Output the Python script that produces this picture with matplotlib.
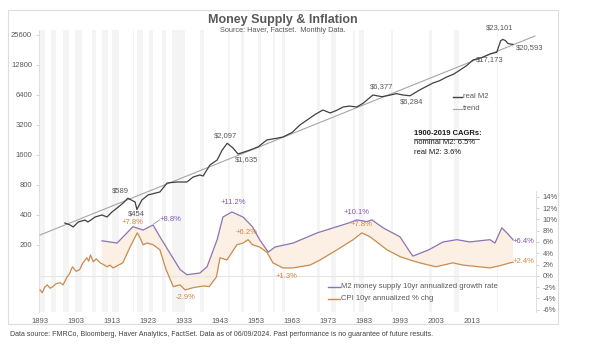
import numpy as np
import matplotlib
matplotlib.use("Agg")
import matplotlib.pyplot as plt
from matplotlib.lines import Line2D
from matplotlib.patches import Rectangle
from matplotlib.ticker import FixedLocator, FixedFormatter

plt.rcParams['font.family'] = ['Liberation Sans', 'DejaVu Sans']

# real M2 (log scale, left axis)
m2_years = [1899.9, 1901.3, 1902.2, 1903.6, 1905.5, 1906.3, 1908.3, 1910.2, 1911.6, 1913.0,
            1914.4, 1916.1, 1917.4, 1919.4, 1919.9, 1921.3, 1923.0, 1926.3, 1928.3, 1931.0,
            1933.8, 1935.5, 1937.4, 1938.3, 1940.2, 1942.2, 1943.6, 1945.0, 1946.6, 1948.0,
            1949.4, 1951.3, 1953.6, 1956.0, 1958.8, 1960.5, 1963.0, 1965.2, 1967.2, 1969.5,
            1971.6, 1973.6, 1975.5, 1977.2, 1979.0, 1981.0, 1982.7, 1985.5, 1988.0, 1990.2,
            1992.0, 1993.8, 1995.8, 1998.5, 2002.2, 2004.0, 2006.0, 2008.0, 2009.7, 2011.5,
            2013.3, 2016.0, 2018.0, 2019.9, 2020.3, 2021.0, 2021.6, 2022.3, 2023.0, 2024.4]
m2_values = [332, 318, 303, 340, 356, 340, 382, 400, 382, 429,
             470, 528, 589, 540, 454, 566, 635, 681, 838, 857,
             857, 960, 1008, 984, 1270, 1424, 1792, 2097, 1882, 1635,
             1700, 1792, 1930, 2263, 2357, 2424, 2688, 3200, 3591, 4100,
             4525, 4224, 4500, 4850, 4950, 4850, 5270, 6400, 6150, 6377,
             6600, 6400, 6284, 7200, 8445, 8900, 9700, 10400, 11400, 12600,
             14370, 15300, 16500, 17173, 19000, 22500, 23101, 22500, 21000, 20593]

trend_years = [1893, 2030.5]
trend_values = [252, 25000]

# 10yr annualized rates (right axis, %)
growth_years = [1910.2, 1914.4, 1918.8, 1921.6, 1924.4, 1926.3, 1929.0, 1931.9, 1933.8, 1937.4,
                1939.4, 1942.2, 1943.8, 1946.3, 1949.4, 1952.0, 1954.0, 1956.4, 1958.3, 1963.3,
                1970.0, 1975.5, 1979.0, 1981.0, 1983.8, 1985.2, 1988.3, 1993.0, 1995.8, 1996.6,
                2001.0, 2005.0, 2008.8, 2012.4, 2018.0, 2019.4, 2021.3, 2022.7, 2024.4]
growth_pct = [6.2, 5.8, 8.7, 8.1, 9.0, 6.9, 4.1, 1.1, 0.2, 0.5,
              1.6, 6.4, 10.4, 11.3, 10.4, 8.7, 6.4, 4.2, 5.1, 5.8,
              7.6, 8.7, 9.4, 9.9, 9.6, 9.9, 8.5, 6.9, 4.2, 3.5,
              4.6, 6.0, 6.4, 6.0, 6.4, 5.8, 8.5, 7.6, 6.4]

cpi_years = [1893.0, 1893.6, 1894.3, 1895.0, 1895.8, 1896.6, 1897.4, 1898.6, 1899.4, 1900.5,
             1901.2, 1902.0, 1903.0, 1904.0, 1904.8, 1906.0, 1906.5, 1907.0, 1907.8, 1908.6,
             1909.7, 1910.6, 1911.6, 1912.4, 1913.3, 1914.5, 1916.0, 1918.0, 1920.0, 1920.8,
             1921.6, 1922.8, 1924.4, 1926.3, 1928.0, 1930.0, 1931.9, 1933.3, 1935.5, 1938.3,
             1940.0, 1942.0, 1943.0, 1944.9, 1947.7, 1949.4, 1950.8, 1952.0, 1954.0, 1956.0,
             1957.7, 1960.5, 1963.3, 1968.0, 1970.8, 1975.5, 1980.0, 1982.4, 1984.7, 1989.4,
             1993.0, 1995.8, 1998.5, 2003.0, 2007.7, 2010.5, 2015.0, 2018.0, 2020.8, 2023.6,
             2024.4]
cpi_pct = [-2.5, -3.0, -2.0, -1.6, -2.2, -1.9, -1.4, -1.2, -1.6, -0.2,
           0.4, 1.6, 0.8, 1.1, 2.2, 3.2, 2.6, 3.7, 2.5, 3.0,
           2.3, 2.0, 1.6, 1.9, 1.4, 1.8, 2.3, 5.1, 7.6, 6.7,
           5.5, 5.8, 5.5, 4.6, 1.1, -1.9, -1.6, -2.5, -2.1, -1.8,
           -1.9, -0.2, 3.2, 2.8, 5.5, 5.8, 6.4, 5.5, 5.1, 4.2,
           2.3, 1.4, 1.4, 1.9, 2.8, 4.6, 6.4, 7.6, 6.9, 4.6,
           3.4, 2.8, 2.3, 1.6, 2.3, 1.9, 1.6, 1.4, 1.8, 2.3,
           2.4]

# NBER recessions (shaded bands)
rec_start = [1893.0, 1895.9, 1899.5, 1902.7, 1907.4, 1910.1, 1913.0, 1918.7, 1920.0, 1923.4,
             1926.8, 1929.6, 1937.4, 1945.1, 1948.9, 1953.5, 1957.6, 1960.3, 1969.9, 1973.9,
             1980.0, 1981.5, 1990.5, 2001.2, 2007.9, 2020.1]
rec_end = [1894.4, 1897.5, 1900.9, 1904.6, 1908.4, 1912.0, 1914.9, 1919.2, 1921.5, 1924.5,
           1927.9, 1933.2, 1938.5, 1945.8, 1949.8, 1954.4, 1958.3, 1961.1, 1970.9, 1975.2,
           1980.5, 1982.9, 1991.2, 2001.9, 2009.5, 2020.3]

left_ticks = [200, 400, 800, 1600, 3200, 6400, 12800, 25600]
right_ticks = [-6, -4, -2, 0, 2, 4, 6, 8, 10, 12, 14]
x_ticks = [1893, 1903, 1913, 1923, 1933, 1943, 1953, 1963, 1973, 1983, 1993, 2003, 2013]

GREY = '#595959'
PURPLE = '#8a74b5'
ORANGE = '#c98b4e'
PURPLE_T = '#7d56b0'
ORANGE_T = '#d0853f'

W, H = 600, 350
fig = plt.figure(figsize=(6, 3.5), dpi=100)
fig.patch.set_facecolor('white')

def fx(x):
    return x / W

def fy(y):
    return 1 - y / H

# outer frame
fig.add_artist(Rectangle((fx(8), fy(324)), fx(558) - fx(8), fy(10) - fy(324),
                         transform=fig.transFigure, fill=False, ec='#dddddd', lw=0.8))

ax = fig.add_axes([fx(39), fy(312), fx(536) - fx(39), fy(30) - fy(312)])
ax2 = ax.twinx()

for s, e in zip(rec_start, rec_end):
    ax.axvspan(s, e, color='#f4f4f4', lw=0, zorder=0)

ax.plot(trend_years, trend_values, color='#a6a6a6', lw=0.8, zorder=3)
ax.plot(m2_years, m2_values, color='#404040', lw=0.9, zorder=4)
ax.set_yscale('log', base=2)
ax.set_ylim(42.5, 28730)
ax.set_xlim(1892.7, 2030.8)
ax.yaxis.set_major_locator(FixedLocator(left_ticks))
ax.yaxis.set_major_formatter(FixedFormatter([str(v) for v in left_ticks]))
ax.yaxis.set_minor_locator(FixedLocator([]))
ax.set_xticks(x_ticks)
ax.set_xticklabels([str(v) for v in x_ticks])
ax.tick_params(axis='x', length=0, labelsize=5.5, labelcolor=GREY, pad=4)
ax.tick_params(axis='y', length=2, width=0.5, color='#bfbfbf', labelsize=5.5,
               labelcolor=GREY, pad=3)
for side in ['top', 'bottom', 'right']:
    ax.spines[side].set_visible(False)
ax.spines['left'].set_color('#d9d9d9')
ax.spines['left'].set_linewidth(0.6)

# right axis: rates
c_sel = [i for i, y in enumerate(cpi_years) if y >= growth_years[0]]
poly_x = list(growth_years) + [cpi_years[i] for i in c_sel][::-1]
poly_y = list(growth_pct) + [cpi_pct[i] for i in c_sel][::-1]
ax2.fill(poly_x, poly_y, color='#fcefe3', lw=0, zorder=1)
ax2.axhline(0, color='#e6e6e6', lw=0.8, zorder=1)
ax2.plot(cpi_years, cpi_pct, color=ORANGE, lw=0.9, zorder=3)
ax2.plot(growth_years, growth_pct, color=PURPLE, lw=0.9, zorder=3)
ax2.set_ylim(-6.4, 43.5)
ax2.set_yticks(right_ticks)
ax2.set_yticklabels([f'{v}%' for v in right_ticks])
ax2.tick_params(axis='y', length=2, width=0.5, color='#bfbfbf', labelsize=5.5,
                labelcolor=GREY, pad=3)
for side in ['top', 'bottom', 'left']:
    ax2.spines[side].set_visible(False)
ax2.spines['right'].set_color('#d9d9d9')
ax2.spines['right'].set_linewidth(0.6)
ax2.spines['right'].set_bounds(-6.4, 15)

# M2 value labels
lab_kw = dict(fontsize=5.5, color=GREY, ha='center', va='center', zorder=6)
ax.text(1915.2, 696, '$589', **lab_kw)
ax.text(1919.7, 410, '$454', **lab_kw)
ax.text(1944.4, 2480, '$2,097', **lab_kw)
ax.text(1950.5, 1424, '$1,635', **lab_kw)
ax.text(1988.0, 7700, '$6,377', **lab_kw)
ax.text(1996.3, 5440, '$6,284', **lab_kw)
ax.text(2018.0, 14370, '$17,173', **lab_kw)
ax.text(2020.8, 30100, '$23,101', clip_on=False, **lab_kw)
ax.text(2029.1, 18960, '$20,593', **lab_kw)

# rate labels
p_kw = dict(fontsize=5.5, color=PURPLE_T, ha='center', va='center', zorder=6)
o_kw = dict(fontsize=5.5, color=ORANGE_T, ha='center', va='center', zorder=6)
ax2.text(1918.8, 9.4, '+7.8%', **o_kw)
ax2.text(1929.3, 9.9, '+8.8%', **p_kw)
ax2.plot([1924.6, 1926.2], [9.2, 9.9], color=PURPLE, lw=0.5)
ax2.text(1946.6, 12.9, '+11.2%', **p_kw)
ax2.text(1950.5, 7.6, '+6.2%', **o_kw)
ax2.text(1933.3, -3.9, '-2.9%', **o_kw)
ax2.text(1961.6, -0.2, '+1.3%', **o_kw)
ax2.text(1981.0, 11.2, '+10.1%', **p_kw)
ax2.text(1982.4, 9.0, '+7.8%', **o_kw)
ax2.text(2027.4, 6.0, '+6.4%', **p_kw)
ax2.text(2027.2, 2.5, '+2.4%', **o_kw)

# title block
fig.text(fx(283), fy(20), 'Money Supply & Inflation', fontsize=9, fontweight='bold',
         color=GREY, ha='center', va='center')
fig.text(fx(283), fy(31), 'Source: Haver, Factset.  Monthly Data.', fontsize=5.3,
         color=GREY, ha='center', va='center')
fig.text(fx(10), fy(335), 'Data source: FMRCo, Bloomberg, Haver Analytics, FactSet. '
         'Data as of 06/09/2024. Past performance is no guarantee of future results.',
         fontsize=5, color='#404040', ha='left', va='center')

# upper legend
fig.add_artist(Line2D([fx(453), fx(462)], [fy(97), fy(97)], color='#404040', lw=1.0))
fig.add_artist(Line2D([fx(453), fx(462)], [fy(109), fy(109)], color='#a6a6a6', lw=0.8))
fig.text(fx(463), fy(97), 'real M2', fontsize=5.5, color=GREY, va='center')
fig.text(fx(463), fy(109), 'trend', fontsize=5.5, color=GREY, va='center')

# CAGR note
fig.text(fx(414), fy(134), '1900-2019 CAGRs:', fontsize=5.5, fontweight='bold',
         color='#1a1a1a', va='center')
fig.add_artist(Line2D([fx(414), fx(479)], [fy(138.5), fy(138.5)], color='#1a1a1a', lw=0.5))
fig.text(fx(414), fy(143), 'nominal M2: 6.5%', fontsize=5.5, color='#1a1a1a', va='center')
fig.text(fx(414), fy(152), 'real M2: 3.6%', fontsize=5.5, color='#1a1a1a', va='center')

# lower legend
fig.add_artist(Line2D([fx(328), fx(340)], [fy(287), fy(287)], color=PURPLE, lw=1.0))
fig.add_artist(Line2D([fx(328), fx(340)], [fy(299), fy(299)], color=ORANGE, lw=1.0))
fig.text(fx(341), fy(287), 'M2 money supply 10yr annualized growth rate', fontsize=5.5,
         color=GREY, va='center')
fig.text(fx(341), fy(299), 'CPI 10yr annualized % chg', fontsize=5.5, color=GREY,
         va='center')

fig.savefig('out.png', dpi=100)
